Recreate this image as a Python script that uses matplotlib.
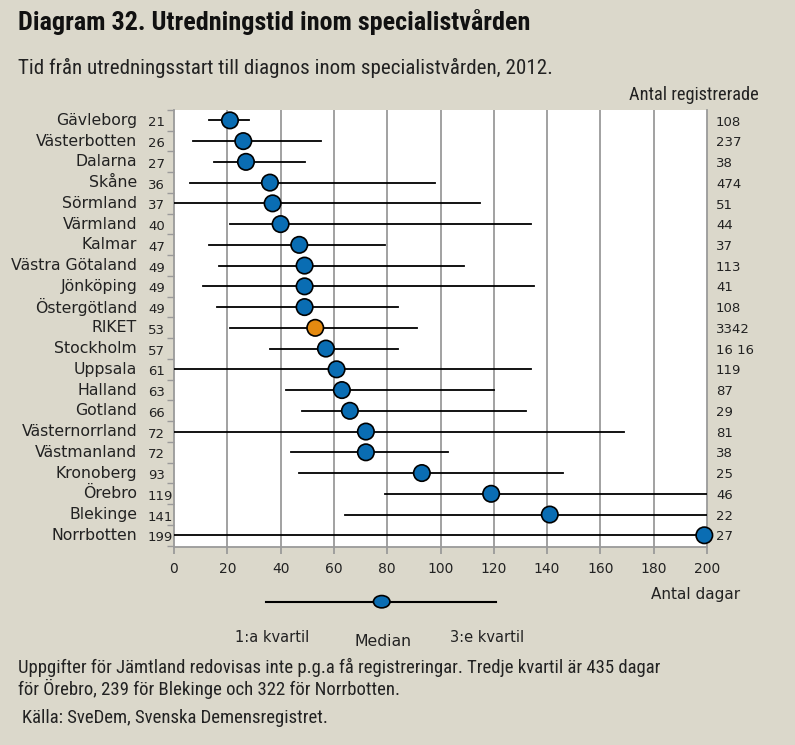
import matplotlib
matplotlib.use("Agg")
import matplotlib.pyplot as plt
from matplotlib import font_manager
from matplotlib.patches import Ellipse
from matplotlib.lines import Line2D
import matplotlib.transforms as mtransforms
import numpy as np

regions = ["Gävleborg", "Västerbotten", "Dalarna", "Skåne", "Sörmland", "Värmland",
           "Kalmar", "Västra Götaland", "Jönköping", "Östergötland", "RIKET",
           "Stockholm", "Uppsala", "Halland", "Gotland", "Västernorrland",
           "Västmanland", "Kronoberg", "Örebro", "Blekinge", "Norrbotten"]
median = [21, 26, 27, 36, 37, 40, 47, 49, 49, 49, 53, 57, 61, 63, 66, 72, 72, 93, 119, 141, 199]
q1 = [13, 7, 15, 6, 0, 21, 13, 17, 11, 16, 21, 36, 0, 42, 48, 0, 44, 47, 79, 64, 0]
q3 = [28, 55, 49, 98, 115, 134, 79, 109, 135, 84, 91, 84, 134, 120, 132, 169, 103, 146, 435, 239, 322]
counts = ["108", "237", "38", "474", "51", "44", "37", "113", "41", "108", "3342",
          "16 16", "119", "87", "29", "81", "38", "25", "46", "22", "27"]
xticks = list(range(0, 201, 20))

# wide face for the chart labels, narrow face for title and notes
names = {f.name for f in font_manager.fontManager.ttflist}
WIDE = ["DejaVu Sans"]
NARROW = ["DejaVu Sans"]
for cand in ["Roboto Condensed", "Liberation Sans Narrow"]:
    if cand in names:
        NARROW = [cand, "DejaVu Sans"]
        break
plt.rcParams['font.family'] = WIDE

BG = "#dbd8cb"
BLUE = "#0a6db3"
ORANGE = "#e48a10"
GRID = "#9a9a9a"
TXT = "#222222"

fig = plt.figure(figsize=(7.95, 7.45), dpi=100, facecolor=BG)
ax = fig.add_axes([174/795, 1-546.7/745, 533/795, (546.7-110)/745])
ax.set_facecolor("white")

y = np.arange(len(regions))
for i in range(len(regions)):
    ax.plot([q1[i], q3[i]], [y[i], y[i]], color="black", lw=1.3, zorder=3)
colors = [ORANGE if r == "RIKET" else BLUE for r in regions]
ax.scatter(median, y, s=140, c=colors, edgecolors="black", linewidths=1.2,
           zorder=4, clip_on=False)

ax.set_xlim(0, 200)
ax.set_ylim(len(regions) - 0.45, -0.5)
ax.set_xticks(xticks)
ax.set_yticks(np.arange(len(regions) + 1) - 0.5)
ax.set_yticklabels([])
for xv in xticks[1:-1]:
    ax.axvline(xv, color=GRID, lw=1.3, zorder=1)
for s in ["left", "right", "bottom"]:
    ax.spines[s].set_color(GRID)
    ax.spines[s].set_linewidth(1.3)
ax.spines["top"].set_visible(False)
ax.tick_params(axis="y", length=5, color=GRID, width=1.0)
ax.tick_params(axis="x", length=5, color=GRID, width=1.3, labelsize=10,
               labelcolor=TXT, pad=6)

tr = mtransforms.blended_transform_factory(ax.transAxes, ax.transData)
for i, r in enumerate(regions):
    ax.text(-0.069, y[i], r, transform=tr, ha="right", va="center", fontsize=11.3,
            color=TXT)
    ax.text(-0.049, y[i] + 0.12, str(median[i]), transform=tr, ha="left", va="center",
            fontsize=9.5, color=TXT)
    ax.text(1.017, y[i] + 0.08, counts[i], transform=tr, ha="left", va="center",
            fontsize=9.5, color=TXT)

fig.text(18/795, 1-22/745, "Diagram 32. Utredningstid inom specialistvården",
         fontsize=18.8, fontweight="bold", va="center", ha="left", color="#111111",
         family=NARROW)
fig.text(18/795, 1-68/745, "Tid från utredningsstart till diagnos inom specialistvården, 2012.",
         fontsize=15.1, va="center", ha="left", color=TXT, family=NARROW)
fig.text(759/795, 1-95/745, "Antal registrerade", fontsize=13.2, va="center", ha="right",
         color=TXT, family=NARROW)
fig.text(696/795, 1-594/745, "Antal dagar", fontsize=11, va="center", ha="center",
         color=TXT)

# legend key
ly = 1-601.7/745
fig.add_artist(Line2D([266/795, 496/795], [ly, ly], color="black", lw=1.5,
                      transform=fig.transFigure))
fig.add_artist(Ellipse((381.7/795, ly), 16.5/795, 12.3/745, transform=fig.transFigure,
                       facecolor=BLUE, edgecolor="black", lw=1.2, zorder=5))
fig.text(272/795, 1-638/745, "1:a kvartil", fontsize=10.5, ha="center", va="center",
         color=TXT)
fig.text(383/795, 1-641/745, "Median", fontsize=11.3, ha="center", va="center",
         color=TXT)
fig.text(487/795, 1-638/745, "3:e kvartil", fontsize=10.5, ha="center", va="center",
         color=TXT)

fig.text(18/795, 1-667/745,
         "Uppgifter för Jämtland redovisas inte p.g.a få registreringar. Tredje kvartil är 435 dagar",
         fontsize=13.5, ha="left", va="center", color=TXT, family=NARROW)
fig.text(18/795, 1-689/745, "för Örebro, 239 för Blekinge och 322 för Norrbotten.",
         fontsize=13.5, ha="left", va="center", color=TXT, family=NARROW)
fig.text(22/795, 1-718/745, "Källa: SveDem, Svenska Demensregistret.",
         fontsize=13.5, ha="left", va="center", color=TXT, family=NARROW)

fig.savefig("out.png", dpi=100, facecolor=BG)
